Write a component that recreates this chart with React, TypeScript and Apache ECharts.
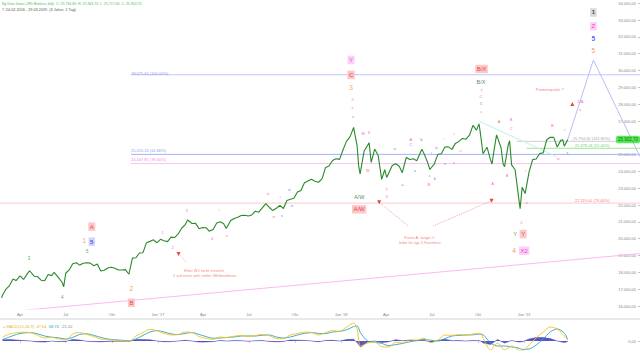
import React, { useEffect, useRef } from "react";
import * as echarts from "echarts";

const ts = (s: string) => {
  const [y, m, d] = s.split("-").map(Number);
  return Date.UTC(y, m - 1, d);
};

const X_MIN = ts("2016-02-21");
const X_MAX = ts("2019-08-20");
const Y_MIN = 15822;
const Y_MAX = 34196;

const xTickDates = ["2016-04-01","2016-07-01","2016-10-01","2017-01-01","2017-04-01","2017-07-01","2017-10-01","2018-01-01","2018-04-01","2018-07-01","2018-10-01","2019-01-01"];
const xTickLabels = ["Apr","Jul","Okt","Jan '17","Apr","Jul","Okt","Jan '18","Apr","Jul","Okt","Jan '19"];
const yTicks = [16000,17000,18000,19000,20000,21000,22000,23000,24000,25000,26000,27000,28000,29000,30000,31000,32000,33000,34000];
// 26.000 label is hidden behind the last-price box in the reference
const yTickLabels = [16000,17000,18000,19000,20000,21000,22000,23000,24000,25000,27000,28000,29000,30000,31000,32000,33000,34000];

const priceDates = ["2016-02-24","2016-02-26","2016-03-04","2016-03-11","2016-03-18","2016-03-24","2016-04-01","2016-04-08","2016-04-15","2016-04-20","2016-04-29","2016-05-06","2016-05-13","2016-05-20","2016-05-27","2016-06-03","2016-06-08","2016-06-17","2016-06-24","2016-06-27","2016-07-01","2016-07-08","2016-07-15","2016-07-22","2016-07-29","2016-08-05","2016-08-12","2016-08-19","2016-08-26","2016-09-02","2016-09-09","2016-09-16","2016-09-23","2016-09-30","2016-10-07","2016-10-14","2016-10-21","2016-10-28","2016-11-04","2016-11-11","2016-11-18","2016-11-25","2016-12-02","2016-12-09","2016-12-16","2016-12-23","2016-12-30","2017-01-06","2017-01-13","2017-01-20","2017-01-27","2017-02-03","2017-02-10","2017-02-17","2017-02-24","2017-03-01","2017-03-10","2017-03-17","2017-03-24","2017-03-31","2017-04-07","2017-04-13","2017-04-21","2017-04-28","2017-05-05","2017-05-12","2017-05-17","2017-05-26","2017-06-02","2017-06-09","2017-06-16","2017-06-23","2017-06-30","2017-07-07","2017-07-14","2017-07-21","2017-07-28","2017-08-04","2017-08-11","2017-08-18","2017-08-25","2017-09-01","2017-09-08","2017-09-15","2017-09-22","2017-09-29","2017-10-06","2017-10-13","2017-10-20","2017-10-27","2017-11-03","2017-11-10","2017-11-17","2017-11-24","2017-12-01","2017-12-08","2017-12-15","2017-12-22","2017-12-29","2018-01-05","2018-01-12","2018-01-19","2018-01-26","2018-02-02","2018-02-05","2018-02-08","2018-02-16","2018-02-26","2018-03-02","2018-03-09","2018-03-16","2018-03-23","2018-03-29","2018-04-02","2018-04-13","2018-04-20","2018-04-27","2018-05-03","2018-05-11","2018-05-18","2018-05-25","2018-06-01","2018-06-11","2018-06-15","2018-06-22","2018-06-27","2018-07-06","2018-07-13","2018-07-20","2018-07-27","2018-08-03","2018-08-10","2018-08-17","2018-08-24","2018-08-31","2018-09-07","2018-09-14","2018-09-21","2018-09-28","2018-10-03","2018-10-05","2018-10-11","2018-10-19","2018-10-26","2018-10-29","2018-11-02","2018-11-07","2018-11-16","2018-11-20","2018-11-23","2018-11-30","2018-12-03","2018-12-07","2018-12-14","2018-12-21","2018-12-24","2018-12-28","2019-01-03","2019-01-11","2019-01-18","2019-01-25","2019-02-01","2019-02-08","2019-02-15","2019-02-22","2019-03-01","2019-03-08","2019-03-15","2019-03-19","2019-03-22","2019-03-29"];
const priceClose = [16485,16640,17006,17213,17602,17515,17792,17577,17897,18096,17773,17740,17535,17500,17873,17807,18005,17675,17400,17140,17949,18147,18516,18571,18432,18543,18576,18552,18395,18492,18085,18124,18262,18308,18240,18138,18145,18161,17888,18848,18868,19152,19171,19757,19843,19934,19763,19964,19886,19827,20094,20071,20269,20624,20822,21115,20903,20914,20596,20663,20656,20453,20548,20941,21006,20897,20606,21080,21206,21272,21384,21394,21350,21414,21638,21580,21830,22092,21858,21675,21814,21988,21797,22268,22349,22405,22773,22871,23329,23434,23539,23422,23358,23558,24231,24329,24652,24754,24719,25295,25803,26072,26616,25521,24346,23860,25219,25710,24538,25335,24946,23533,24103,23644,24360,24463,24311,23930,24831,24715,24753,24635,25322,25090,24581,24117,24456,25019,25058,25451,25463,25313,25669,25790,25965,25917,26155,26743,26458,26828,26447,25052,25444,24688,24443,25271,26180,25413,24465,24286,25538,25826,24389,24101,22445,21792,23062,22686,23996,24706,24737,25064,25106,25883,26031,26026,25450,25849,25887,25502,25902.7];

const macdDates = ["2016-02-26","2016-03-11","2016-03-25","2016-04-08","2016-04-22","2016-05-06","2016-05-20","2016-06-03","2016-06-17","2016-07-01","2016-07-15","2016-07-29","2016-08-12","2016-08-26","2016-09-09","2016-09-23","2016-10-07","2016-10-21","2016-11-04","2016-11-18","2016-12-02","2016-12-16","2016-12-30","2017-01-13","2017-01-27","2017-02-10","2017-02-24","2017-03-10","2017-03-24","2017-04-07","2017-04-21","2017-05-05","2017-05-19","2017-06-02","2017-06-16","2017-06-30","2017-07-14","2017-07-28","2017-08-11","2017-08-25","2017-09-08","2017-09-22","2017-10-06","2017-10-20","2017-11-03","2017-11-17","2017-12-01","2017-12-15","2017-12-29","2018-01-12","2018-01-26","2018-02-02","2018-02-09","2018-02-23","2018-03-09","2018-03-23","2018-04-06","2018-04-20","2018-05-04","2018-05-18","2018-06-01","2018-06-15","2018-06-29","2018-07-13","2018-07-27","2018-08-10","2018-08-24","2018-09-07","2018-09-21","2018-10-05","2018-10-12","2018-10-26","2018-11-09","2018-11-23","2018-12-07","2018-12-21","2018-12-28","2019-01-11","2019-01-25","2019-02-08","2019-02-22","2019-03-08","2019-03-22","2019-03-29"];
const macdLine = [200,350,420,440,420,280,150,180,100,50,350,420,330,220,100,60,30,20,-40,250,420,580,520,380,300,320,450,420,220,130,80,200,170,240,280,230,270,330,260,120,110,300,380,440,430,300,420,520,480,700,900,600,-250,-100,-50,-280,-300,-50,-100,50,50,150,-80,50,300,280,320,300,350,380,100,-450,-100,-450,-250,-450,-500,-200,150,450,700,600,250,48];
const signalLine = [80,200,330,400,420,360,250,190,160,100,180,330,360,280,180,100,60,40,10,100,280,450,520,450,360,320,380,420,330,220,140,150,180,200,250,250,250,290,300,200,150,200,300,380,420,380,370,450,480,560,720,750,400,0,-60,-120,-230,-180,-120,-40,20,80,40,0,120,250,280,300,310,350,300,-100,-250,-250,-300,-350,-420,-400,-200,100,450,600,400,69];
const histValues = [60,70,45,20,0,-40,-50,-5,-30,-25,80,45,-15,-30,-40,-20,-15,-10,-25,70,70,60,0,-35,-30,0,35,0,-55,-45,-30,25,-5,20,15,-10,10,20,-20,-40,-20,50,40,30,5,-40,25,35,0,70,90,-75,-300,-50,5,-80,-35,65,10,45,15,35,-60,25,90,15,20,0,20,15,-100,-170,75,-100,25,-50,-40,100,170,170,120,0,-75,-21];

const de = (v: number) => {
  const s = Math.abs(v).toFixed(2);
  const [i, f] = s.split(".");
  return (v < 0 ? "-" : "") + i.replace(/\B(?=(\d{3})+(?!\d))/g, ".") + "," + f;
};

const STY: Record<string, any> = {
  redBox: { color: "#e8141e", backgroundColor: "#fbbcbc", fontSize: 6, padding: [1.5, 1.5, 1, 1.5] },
  pinkBox: { color: "#e41ed0", backgroundColor: "#fcc4f2", fontSize: 6, padding: [1.5, 1.5, 1, 1.5] },
  grayBox: { color: "#222", backgroundColor: "#cfcfcf", fontSize: 6, fontWeight: "bold", padding: [1.5, 1.5, 1, 1.5] },
  blueBox: { color: "#2233ee", backgroundColor: "#c4caf8", fontSize: 6, fontWeight: "bold", padding: [1.5, 1.5, 1, 1.5] },
  orange: { color: "#f57c1f", fontSize: 6.5 },
  blue: { color: "#2b3bf0", fontSize: 6.5, fontWeight: "bold" },
  green: { color: "#1f6e2a", fontSize: 5.5 },
  greenSmall: { color: "#2d8a3a", fontSize: 4.5 },
  redSmall: { color: "#f04848", fontSize: 4 },
  pinkSmall: { color: "#ee33dd", fontSize: 4 },
  blueSmall: { color: "#5060f0", fontSize: 4 },
  orangeSmall: { color: "#f59a50", fontSize: 4 },
  note: { color: "#f05a5a", fontSize: 4, lineHeight: 5.5 },
};

// [date, price, text, style]
const waveLabels: [string, number, string, string][] = [
  ["2019-05-19", 33453, "1", "grayBox"],
  ["2019-05-19", 32632, "Z", "pinkBox"],
  ["2019-05-19", 31919, "5", "blue"],
  ["2019-05-19", 31181, "5", "orange"],
  ["2018-01-21", 30628, "Y", "pinkBox"],
  ["2018-01-21", 29737, "C", "redBox"],
  ["2018-01-21", 28964, "3", "orange"],
  ["2018-01-24", 28250, "5", "pinkSmall"],
  ["2018-01-24", 27780, "v", "redSmall"],
  ["2018-01-25", 27239, "v", "blueSmall"],
  ["2018-02-14", 26270, "W", "pinkSmall"],
  ["2018-02-26", 26330, "X", "redSmall"],
  ["2018-02-23", 24028, "W", "redSmall"],
  ["2018-02-06", 22500, "A/W", "green"],
  ["2018-02-06", 21751, "A/W", "redBox"],
  ["2018-04-02", 22940, "Y", "redSmall"],
  ["2018-04-02", 22500, "X", "pinkSmall"],
  ["2018-04-18", 25378, "a", "blueSmall"],
  ["2018-05-20", 25872, "A", "redSmall"],
  ["2018-05-20", 25574, "C", "blueSmall"],
  ["2018-06-10", 25913, "b", "blueSmall"],
  ["2018-05-28", 24046, "a", "blueSmall"],
  ["2018-05-03", 23237, "a", "blueSmall"],
  ["2018-06-27", 23731, "c", "blueSmall"],
  ["2018-07-07", 23553, "b", "blueSmall"],
  ["2018-06-25", 23237, "B", "redSmall"],
  ["2018-06-30", 25116, "i", "blueSmall"],
  ["2018-07-10", 25414, "iii", "blueSmall"],
  ["2018-07-27", 24486, "ii", "blueSmall"],
  ["2018-08-27", 25235, "iv", "orangeSmall"],
  ["2018-08-14", 24522, "v", "redSmall"],
  ["2018-08-14", 26270, "ii", "orangeSmall"],
  ["2018-07-25", 25973, "i", "orangeSmall"],
  ["2018-10-08", 30093, "B/X", "redBox"],
  ["2018-10-07", 29302, "B/X", "green"],
  ["2018-10-08", 28785, "Y", "pinkSmall"],
  ["2018-10-07", 28446, "C", "redSmall"],
  ["2018-10-07", 28054, "5", "blueSmall"],
  ["2018-10-07", 27554, "a", "orangeSmall"],
  ["2018-11-12", 26960, "A", "redSmall"],
  ["2018-12-06", 27061, "B", "pinkSmall"],
  ["2018-12-06", 26526, "C", "redSmall"],
  ["2019-04-23", 28149, "1/A", "pinkSmall"],
  ["2019-04-23", 27697, "v", "redSmall"],
  ["2019-02-26", 26704, "B", "redSmall"],
  ["2019-03-23", 26508, "i", "blueSmall"],
  ["2019-03-10", 24783, "iv", "redSmall"],
  ["2019-03-28", 25116, "ii", "blueSmall"],
  ["2018-10-30", 23255, "A", "pinkSmall"],
  ["2018-11-28", 23790, "B", "redSmall"],
  ["2019-01-04", 24028, "i", "redSmall"],
  ["2019-01-06", 22143, "ii", "redSmall"],
  ["2018-12-27", 20954, "C", "pinkSmall"],
  ["2018-12-14", 20282, "Y", "green"],
  ["2018-12-30", 20282, "Y", "redBox"],
  ["2018-12-12", 19289, "4", "orange"],
  ["2019-01-01", 19289, "X2", "pinkBox"],
  ["2016-08-22", 20716, "A", "redBox"],
  ["2016-08-07", 19866, "1", "orange"],
  ["2016-08-22", 19824, "5", "blueBox"],
  ["2016-08-13", 19230, "5", "greenSmall"],
  ["2016-04-19", 18837, "3", "greenSmall"],
  ["2016-06-24", 16518, "4", "greenSmall"],
  ["2016-11-09", 17012, "2", "orange"],
  ["2016-11-09", 16198, "B", "redBox"],
  ["2017-01-10", 20383, "1", "pinkSmall"],
  ["2017-01-30", 19479, "2", "pinkSmall"],
  ["2017-02-27", 21650, "3", "pinkSmall"],
  ["2017-04-19", 20027, "4", "pinkSmall"],
  ["2017-05-03", 21751, "i", "redSmall"],
  ["2017-05-18", 20181, "ii", "redSmall"],
  ["2017-08-08", 22702, "iii", "redSmall"],
  ["2017-08-20", 21311, "iv", "redSmall"],
  ["2017-09-01", 22500, "i", "blueSmall"],
  ["2017-09-05", 21353, "ii", "blueSmall"],
  ["2017-09-20", 22940, "iii", "blueSmall"],
  ["2017-09-25", 21965, "iv", "blueSmall"],
  ["2019-02-21", 28845, "Prämienpunkt ?", "note"],
  ["2018-06-07", 19926, "Kurze A, lange C:\nIndiz für typ 2-Korrektur", "note"],
  ["2017-04-04", 17963, "Eher W1 nicht erreicht.\n1 auf einer sehr tiefen Wellenebene", "note"],
];

// [start date, price, label, line colour, text colour]
const fibLevels: [string, number, string, string, string][] = [
  ["2016-11-08", 29750, "28.675,65 (100.00%)", "#c4c8fa", "#6a74e8"],
  ["2016-11-08", 25015, "25.015,20 (61.80%)", "#a8b0fa", "#6a74e8"],
  ["2016-11-08", 24467.85, "24.467,85 (78.60%)", "#f8c4f0", "#f060e0"],
  ["2018-12-17", 25794, "25.794,00 (161.80%)", "#d0d0d0", "#888888"],
  ["2019-01-06", 25378.24, "25.378,24 (55.40%)", "#9ae89a", "#40c040"],
  ["2016-02-21", 22119, "22.119,00 (76.40%)", "#fccaca", "#f05050"],
];
const fibLabelPos: [string, number][] = [
  ["2016-11-08", 29855],
  ["2016-11-08", 25235],
  ["2016-11-08", 24682],
  ["2019-04-08", 25931],
  ["2019-04-12", 25515],
  ["2019-04-12", 22262],
];

const trendPink: [string, number][] = [["2016-02-21", 15615], ["2019-08-20", 19117]];
const trendCyan: [string, number][] = [["2018-10-05", 26960], ["2019-03-07", 24878]];
const forecast: [string, number][] = [["2019-03-29", 25902.7], ["2019-05-19", 30628], ["2019-08-20", 24879]];
const connectors: [string, number][][] = [
  [["2018-03-18", 22167], ["2018-05-15", 20758]],
  [["2018-07-04", 20758], ["2018-10-28", 22262]],
  [["2017-02-11", 19093], ["2017-02-27", 18618]],
];
const triangles: [string, number, boolean][] = [
  ["2018-03-18", 22167, true],
  ["2018-10-28", 22262, true],
  ["2017-02-11", 19093, true],
  ["2019-04-07", 28012, false],
];

const FONT = "'Liberation Sans', Arial, sans-serif";

export default function App() {
  const ref = useRef<HTMLDivElement>(null);
  useEffect(() => {
    if (!ref.current) return;
    const chart = echarts.init(ref.current, undefined, { renderer: "svg" });
    const xTicks = xTickDates.map(ts);
    const lineSeries = (data: [string, number][], color: string, extra: any = {}) => ({
      type: "line",
      xAxisIndex: 0,
      yAxisIndex: 0,
      data: data.map((d) => [ts(d[0]), d[1]]),
      symbol: "none",
      silent: true,
      lineStyle: { color, width: 1, ...extra },
      z: 1,
    });
    const series: any[] = [];
    fibLevels.forEach((f) => {
      series.push(lineSeries([[f[0], f[1]], ["2019-08-20", f[1]]], f[3]));
    });
    series.push(lineSeries(trendPink, "#fcb8f0"));
    series.push(lineSeries(trendCyan, "#bff0f0"));
    series.push(lineSeries(forecast, "#bcbcf8"));
    connectors.forEach((c) => series.push(lineSeries(c, "#f6a8a8", { type: "dotted" })));
    series.push({
      type: "line",
      data: priceDates.map((d, i) => [ts(d), priceClose[i]]),
      symbol: "none",
      lineStyle: { color: "#2a8a2a", width: 1.1 },
      z: 3,
    });
    series.push({
      type: "scatter",
      data: triangles.map((t) => ({ value: [ts(t[0]), t[1]], symbolRotate: t[2] ? 180 : 0 })),
      symbol: "triangle",
      symbolSize: 4,
      itemStyle: { color: "#e01818" },
      z: 4,
    });
    series.push({
      type: "scatter",
      data: fibLevels.map((f, i) => ({
        value: [ts(fibLabelPos[i][0]), fibLabelPos[i][1]],
        label: { show: true, formatter: f[2], color: f[4], fontSize: 4, fontFamily: FONT, position: "inside", align: "left" },
      })),
      symbolSize: 1,
      itemStyle: { color: "rgba(0,0,0,0)" },
      z: 5,
    });
    series.push({
      type: "scatter",
      data: waveLabels.map((w) => ({
        value: [ts(w[0]), w[1]],
        label: { show: true, formatter: w[2], fontFamily: FONT, position: "inside", align: "center", verticalAlign: "middle", ...STY[w[3]] },
      })),
      symbolSize: 1,
      itemStyle: { color: "rgba(0,0,0,0)" },
      z: 6,
    });
    series.push({
      type: "scatter",
      data: [{
        value: [X_MAX, priceClose[priceClose.length - 1]],
        label: { show: true, formatter: de(priceClose[priceClose.length - 1]), position: "inside", align: "right", verticalAlign: "middle", color: "#0a3a0a", backgroundColor: "#2ee62e", fontSize: 4.5, fontFamily: FONT, padding: [1.5, 2, 1, 2], borderRadius: 2 },
      }],
      symbolSize: 1,
      itemStyle: { color: "rgba(0,0,0,0)" },
      z: 7,
    });
    // MACD panel
    series.push({
      type: "line",
      xAxisIndex: 1,
      yAxisIndex: 1,
      data: macdDates.map((d, i) => [ts(d), histValues[i]]),
      symbol: "none",
      lineStyle: { color: "#3c3cb8", width: 0.5 },
      areaStyle: { color: "#4646c0", opacity: 0.9, origin: 0 },
    });
    series.push({
      type: "line",
      xAxisIndex: 1,
      yAxisIndex: 1,
      data: macdDates.map((d, i) => [ts(d), signalLine[i]]),
      symbol: "none",
      smooth: 0.3,
      lineStyle: { color: "#2aa4c8", width: 0.9 },
    });
    series.push({
      type: "line",
      xAxisIndex: 1,
      yAxisIndex: 1,
      data: macdDates.map((d, i) => [ts(d), macdLine[i]]),
      symbol: "none",
      smooth: 0.3,
      lineStyle: { color: "#f5c21a", width: 0.9 },
    });

    chart.setOption({
      animation: false,
      backgroundColor: "#ffffff",
      textStyle: { fontFamily: FONT },
      grid: [
        { left: 0, right: 0, top: 0, height: 309 },
        { left: 0, right: 0, top: 321, height: 29 },
      ],
      xAxis: [
        {
          type: "value", gridIndex: 0, min: X_MIN, max: X_MAX,
          axisLine: { show: false }, axisTick: { show: false }, splitLine: { show: false },
          axisLabel: {
            customValues: xTicks, fontSize: 4, color: "#888", margin: 3, fontFamily: FONT,
            formatter: (v: number) => { const i = xTicks.indexOf(v); return i >= 0 ? xTickLabels[i] : ""; },
          },
        },
        {
          type: "value", gridIndex: 1, min: X_MIN, max: X_MAX,
          axisLine: { show: false }, splitLine: { show: false }, axisLabel: { show: false },
          axisTick: { show: true, customValues: xTicks, length: 2, lineStyle: { color: "#aaa", width: 0.6 } },
        },
      ],
      yAxis: [
        {
          type: "value", gridIndex: 0, position: "right", min: Y_MIN, max: Y_MAX,
          axisLine: { show: false }, splitLine: { show: false },
          axisTick: { show: true, inside: true, length: 2, customValues: yTicks, lineStyle: { color: "#999", width: 0.6 } },
          axisLabel: { inside: true, customValues: yTickLabels, formatter: (v: number) => de(v), fontSize: 4, color: "#888", margin: 4, fontFamily: FONT },
        },
        {
          type: "value", gridIndex: 1, position: "right", min: -450, max: 1000,
          axisLine: { show: false }, splitLine: { show: false },
          axisTick: { show: true, inside: true, length: 2, customValues: [0], lineStyle: { color: "#999", width: 0.6 } },
          axisLabel: { inside: true, customValues: [0], formatter: (v: number) => de(v), fontSize: 4, color: "#888", margin: 4, fontFamily: FONT },
        },
      ],
      graphic: [
        { type: "line", shape: { x1: 0, y1: 319, x2: 640, y2: 319 }, style: { stroke: "#d4d4d4", lineWidth: 1 } },
        { type: "text", left: 2, top: 2, style: { text: "Ny Dow Jones (JFD Brokers, bid)  O: 25.734,80  H: 25.943,70  L: 25.717,30  C: 25.902,70", fill: "#4cc04c", fontSize: 3.5, fontFamily: FONT } },
        { type: "text", left: 2, top: 8, style: { text: "© 24.02.2016 - 29.03.2019  (3 Jahre, 1 Tag)", fill: "#555", fontSize: 3.8, fontFamily: FONT } },
        {
          type: "text", left: 3, top: 324,
          style: {
            text: "{o|= MACD(12,26,9)  47,64}  {c|68,74}  {g|-21,10}",
            fontSize: 4, fontFamily: FONT,
            rich: { o: { fill: "#f0b020", fontSize: 4 }, c: { fill: "#2aa4c8", fontSize: 4 }, g: { fill: "#888", fontSize: 4 } },
          },
        },
      ],
      series,
    });
    return () => chart.dispose();
  }, []);
  return <div ref={ref} style={{ position: "fixed", left: 0, top: 0, width: 640, height: 353 }} />;
}
